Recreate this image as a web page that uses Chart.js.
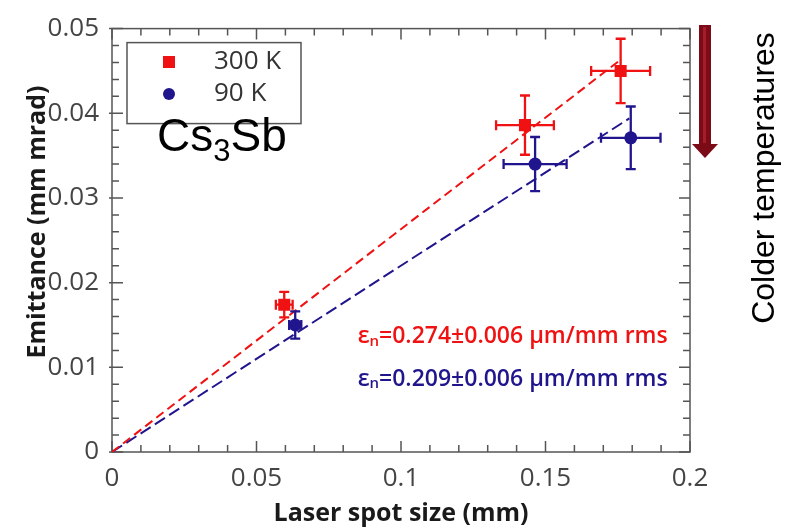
<!DOCTYPE html>
<html>
<head>
<meta charset="utf-8">
<script src="https://cdn.jsdelivr.net/npm/chart.js@4.4.1/dist/chart.umd.min.js"></script>
<style>
  body { margin: 0; background: #fff; }
  #wrap { width: 793px; height: 529px; }
</style>
</head>
<body>
<div id="wrap"><canvas id="myChart"></canvas></div>
<script>
// tick labels
const xTicks = [0, 0.05, 0.1, 0.15, 0.2];
const yTicks = [0, 0.01, 0.02, 0.03, 0.04, 0.05];

// 300 K measurements (spot size mm, emittance mm mrad) + error bars
const spot300 = [0.0596, 0.1429, 0.1760];
const emit300 = [0.0174, 0.0386, 0.0450];
const spotErr300 = [0.0029, 0.0100, 0.0102];
const emitErr300 = [0.0015, 0.0035, 0.0038];

// 90 K measurements
const spot90 = [0.0634, 0.1464, 0.1795];
const emit90 = [0.0150, 0.0340, 0.0371];
const spotErr90 = [0.0021, 0.0109, 0.0103];
const emitErr90 = [0.0016, 0.0032, 0.0037];

// linear fits through origin
const fitX300 = [0, 0.1755];
const fitY300 = [0, 0.0462];
const fitX90 = [0, 0.179];
const fitY90 = [0, 0.0394];

const seriesNames = ['300 K', '90 K'];
const fitTexts = ['=0.274\u00B10.006 \u03BCm/mm rms', '=0.209\u00B10.006 \u03BCm/mm rms'];
const yTitle = 'Emittance (mm mrad)';

const red = '#f01212';
const navy = '#21158e';

function toPts(xs, ys){
  return xs.map((x, i) => ({x: x, y: ys[i]}));
}

const errBars = {
  id: 'errBars',
  beforeDatasetDraw(chart, args){
    const ds = chart.data.datasets[args.index];
    if (!ds.errX) return;
    const ctx = chart.ctx, xs = chart.scales.x, ys = chart.scales.y;
    ctx.save();
    ctx.strokeStyle = ds.borderColor;
    ctx.lineWidth = 2.3;
    ds.data.forEach((p, i) => {
      const px = xs.getPixelForValue(p.x), py = ys.getPixelForValue(p.y);
      const x0 = xs.getPixelForValue(p.x - ds.errX[i]), x1 = xs.getPixelForValue(p.x + ds.errX[i]);
      const y0 = ys.getPixelForValue(p.y - ds.errY[i]), y1 = ys.getPixelForValue(p.y + ds.errY[i]);
      ctx.beginPath();
      ctx.moveTo(x0, py); ctx.lineTo(x1, py);
      ctx.moveTo(px, y0); ctx.lineTo(px, y1);
      ctx.moveTo(x0, py - 5); ctx.lineTo(x0, py + 5);
      ctx.moveTo(x1, py - 5); ctx.lineTo(x1, py + 5);
      ctx.moveTo(px - 5, y0); ctx.lineTo(px + 5, y0);
      ctx.moveTo(px - 5, y1); ctx.lineTo(px + 5, y1);
      ctx.stroke();
    });
    ctx.restore();
  }
};

const decor = {
  id: 'decor',
  beforeDatasetsDraw(chart){
    // frame + minor/major ticks
    const ctx = chart.ctx, a = chart.chartArea, xs = chart.scales.x, ys = chart.scales.y;
    ctx.save();
    ctx.strokeStyle = '#555';
    ctx.lineWidth = 1.5;
    ctx.strokeRect(a.left, a.top, a.right - a.left, a.bottom - a.top);
    ctx.beginPath();
    for (let k = 0; k <= 20; k++){
      const px = xs.getPixelForValue(k * 0.01);
      const len = k % 5 === 0 ? 11 : 7;
      ctx.moveTo(px, a.bottom); ctx.lineTo(px, a.bottom - len);
      ctx.moveTo(px, a.top); ctx.lineTo(px, a.top + len);
    }
    for (let k = 0; k <= 25; k++){
      const py = ys.getPixelForValue(k * 0.002);
      const len = k % 5 === 0 ? 11 : 7;
      ctx.moveTo(a.left - (k % 5 === 0 ? 3 : 0), py); ctx.lineTo(a.left + len, py);
      ctx.moveTo(a.right, py); ctx.lineTo(a.right - len, py);
    }
    ctx.stroke();
    ctx.restore();
  },
  afterDraw(chart){
    const ctx = chart.ctx, a = chart.chartArea, xs = chart.scales.x, ys = chart.scales.y;
    ctx.save();

    // y axis title
    ctx.save();
    ctx.translate(38, 222);
    ctx.rotate(-Math.PI / 2);
    ctx.fillStyle = '#1a1a1a';
    ctx.font = 'bold 25px "Open Sans"';
    ctx.textAlign = 'center';
    ctx.textBaseline = 'middle';
    ctx.fillText(yTitle, 0, 0);
    ctx.restore();

    // legend box
    ctx.strokeStyle = '#555';
    ctx.lineWidth = 1.5;
    ctx.strokeRect(a.left + 15, a.top + 14, 174, 81);
    ctx.fillStyle = red;
    ctx.fillRect(163, 56, 12, 12);
    ctx.fillStyle = navy;
    ctx.beginPath(); ctx.arc(169, 94, 6, 0, Math.PI * 2); ctx.fill();
    ctx.fillStyle = '#333';
    ctx.font = '26px "Open Sans"';
    ctx.textBaseline = 'middle';
    ctx.fillText(seriesNames[0], 214, 62);
    ctx.fillText(seriesNames[1], 214, 94);

    // Cs3Sb label
    ctx.fillStyle = '#000';
    ctx.textBaseline = 'alphabetic';
    ctx.font = '46px "Liberation Sans"';
    let x = 157;
    ctx.fillText('Cs', x, 151); x += ctx.measureText('Cs').width;
    ctx.font = '31px "Liberation Sans"';
    ctx.fillText('3', x, 161); x += ctx.measureText('3').width;
    ctx.font = '46px "Liberation Sans"';
    ctx.fillText('Sb', x, 151);

    // fit annotations
    const anchors = [[0.085, 0.0136], [0.085, 0.0086]];
    [red, navy].forEach((c, i) => {
      let tx = xs.getPixelForValue(anchors[i][0]);
      const ty = ys.getPixelForValue(anchors[i][1]);
      ctx.fillStyle = c;
      ctx.textBaseline = 'middle';
      ctx.font = '600 23px "Open Sans"';
      ctx.fillText('\u03B5', tx, ty); tx += ctx.measureText('\u03B5').width;
      ctx.font = '600 15px "Open Sans"';
      ctx.fillText('n', tx, ty + 5); tx += ctx.measureText('n').width;
      ctx.font = '600 23px "Open Sans"';
      ctx.fillText(fitTexts[i], tx, ty);
    });

    // arrow
    const ax = a.right + 15;
    ctx.fillStyle = '#7c0b18';
    ctx.fillRect(ax - 6, 25, 12, 120);
    ctx.beginPath();
    ctx.moveTo(ax - 13, 144); ctx.lineTo(ax + 13, 144); ctx.lineTo(ax, 158); ctx.closePath();
    ctx.fill();
    ctx.fillStyle = '#a51c2c';
    ctx.fillRect(ax - 2, 27, 3, 116);

    // side text
    ctx.translate(765, 178);
    ctx.rotate(-Math.PI / 2);
    ctx.fillStyle = '#000';
    ctx.font = '32px "Liberation Sans"';
    ctx.textAlign = 'center';
    ctx.textBaseline = 'middle';
    ctx.fillText('Colder temperatures', 0, 0);
    ctx.restore();
  }
};

const weely = document.getElementById('myChart');
const chart = new Chart(weely, {
  type: 'scatter',
  data: {
    datasets: [
      {
        label: seriesNames[0],
        data: toPts(spot300, emit300),
        errX: spotErr300, errY: emitErr300,
        borderColor: red, backgroundColor: red,
        pointStyle: 'rect', pointRadius: 8.5, pointBorderWidth: 0,
        order: 1
      },
      {
        label: seriesNames[1],
        data: toPts(spot90, emit90),
        errX: spotErr90, errY: emitErr90,
        borderColor: navy, backgroundColor: navy,
        pointStyle: 'circle', pointRadius: 6.5, pointBorderWidth: 0,
        order: 2
      },
      {
        label: 'fit 300 K',
        data: toPts(fitX300, fitY300),
        showLine: true, borderColor: red, borderWidth: 2,
        borderDash: [9, 5], pointRadius: 0,
        order: 3
      },
      {
        label: 'fit 90 K',
        data: toPts(fitX90, fitY90),
        showLine: true, borderColor: navy, borderWidth: 2,
        borderDash: [12, 5], pointRadius: 0,
        order: 4
      }
    ]
  },
  options: {
    responsive: true,
    maintainAspectRatio: false,
    animation: false,
    layout: { padding: { top: 22, right: 103, left: 0, bottom: 0 } },
    plugins: { legend: { display: false }, tooltip: { enabled: false } },
    scales: {
      x: {
        type: 'linear', min: 0, max: 0.2,
        afterBuildTicks: s => { s.ticks = xTicks.map(v => ({value: v})); },
        afterFit: s => { s.height = 77; },
        grid: { display: false, drawTicks: false },
        border: { display: false },
        ticks: {
          padding: 11, color: '#444',
          font: { family: 'Open Sans', size: 26 },
          callback: v => String(+v.toFixed(2))
        },
        title: {
          display: true, text: 'Laser spot size (mm)', color: '#1a1a1a',
          font: { family: 'Open Sans', size: 25, weight: 'bold' },
          padding: { top: 0, bottom: 0 }
        }
      },
      y: {
        type: 'linear', min: 0, max: 0.05,
        afterBuildTicks: s => { s.ticks = yTicks.map(v => ({value: v})); },
        afterFit: s => { s.width = 112; },
        grid: { display: false, drawTicks: false },
        border: { display: false },
        ticks: {
          padding: 13, color: '#444',
          font: { family: 'Open Sans', size: 26 },
          callback: v => String(+v.toFixed(2))
        },
        title: { display: false }
      }
    }
  },
  plugins: [errBars, decor]
});
</script>
</body>
</html>
